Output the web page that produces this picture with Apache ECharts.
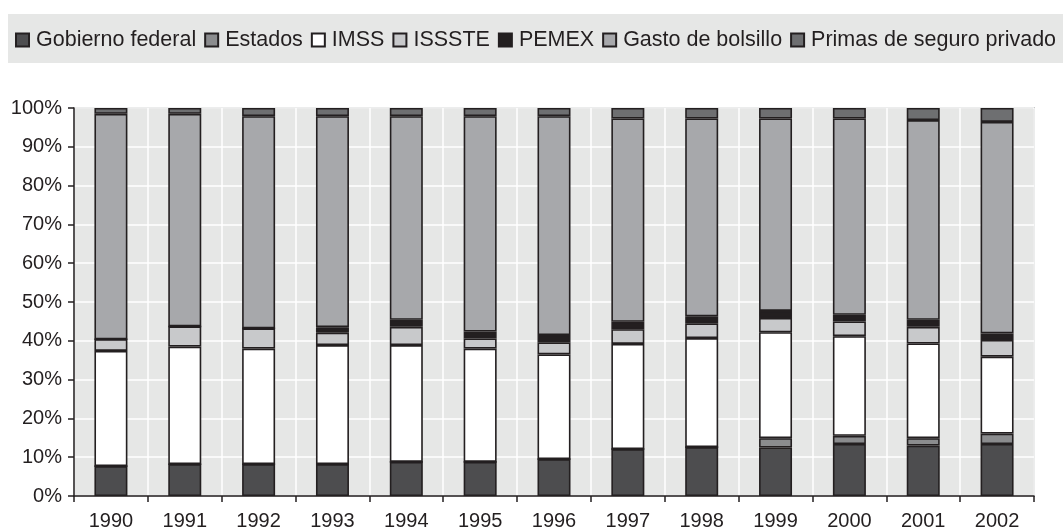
<!DOCTYPE html>
<html>
<head>
<meta charset="utf-8">
<script src="https://cdn.jsdelivr.net/npm/echarts@6/dist/echarts.min.js"></script>
<style>
html,body{margin:0;padding:0;background:#fff;}
#chart{width:1063px;height:531px;}
</style>
</head>
<body>
<div id="chart"></div>
<script>
const years = ['1990','1991','1992','1993','1994','1995','1996','1997','1998','1999','2000','2001','2002'];
const gobiernoFederal = [7.7, 8.2, 8.2, 8.2, 8.8, 8.8, 9.5, 12.1, 12.6, 12.5, 13.4, 13.0, 13.4];
const estados         = [0, 0, 0, 0, 0, 0, 0, 0, 0, 2.4, 2.1, 1.9, 2.7];
const imss            = [29.7, 30.3, 29.8, 30.7, 30.1, 29.2, 27.0, 27.1, 28.1, 27.3, 25.7, 24.4, 19.8];
const issste          = [3.0, 5.2, 5.2, 3.2, 4.7, 2.6, 3.1, 3.8, 3.8, 3.7, 3.8, 4.3, 4.3];
const pemex           = [0, 0, 0, 1.4, 1.8, 1.8, 1.9, 1.9, 1.8, 1.8, 1.7, 1.8, 1.7];
const gastoBolsillo   = [58.1, 54.8, 54.7, 54.4, 52.5, 55.5, 56.4, 52.4, 51.0, 49.6, 50.6, 51.5, 54.5];
const primasSeguro    = [1.5, 1.5, 2.1, 2.1, 2.1, 2.1, 2.1, 2.7, 2.7, 2.7, 2.7, 3.1, 3.6];

const seriesDefs = [
  ['Gobierno federal', gobiernoFederal, '#4d4d4f'],
  ['Estados', estados, '#8b8c8e'],
  ['IMSS', imss, '#ffffff'],
  ['ISSSTE', issste, '#c8c9cb'],
  ['PEMEX', pemex, '#231f20'],
  ['Gasto de bolsillo', gastoBolsillo, '#a7a8ab'],
  ['Primas de seguro privado', primasSeguro, '#6e6f71']
];

const FONT = '"Liberation Sans", Arial, sans-serif';
const chart = echarts.init(document.getElementById('chart'), null, {renderer: 'canvas'});
chart.setOption({
  animation: false,
  backgroundColor: '#ffffff',
  graphic: [{
    type: 'rect', z: -10, silent: true,
    shape: {x: 8, y: 14, width: 1060, height: 49},
    style: {fill: '#e6e7e6'}
  }],
  legend: {
    left: 15, top: 29, width: 1048, padding: 0,
    itemWidth: 13, itemHeight: 13, itemGap: 8,
    icon: 'rect',
    textStyle: {fontFamily: FONT, fontSize: 21.5, color: '#231f20', padding: [0, 0, 0, 2]},
    data: seriesDefs.map(d => d[0])
  },
  grid: {
    left: 74, right: 29, top: 108, bottom: 35,
    show: true, backgroundColor: '#e6e7e6', borderColor: '#9d9e9f', borderWidth: 1.5
  },
  xAxis: {
    type: 'category', data: years, boundaryGap: true,
    axisLine: {lineStyle: {color: '#231f20', width: 1.5}},
    axisTick: {show: true, length: 6, lineStyle: {color: '#231f20', width: 1.5}},
    axisLabel: {fontFamily: FONT, fontSize: 20, color: '#231f20', margin: 15},
    splitLine: {show: true, lineStyle: {color: '#ffffff', width: 1.5}}
  },
  yAxis: {
    type: 'value', min: 0, max: 100, interval: 10,
    axisLine: {show: true, lineStyle: {color: '#231f20', width: 1.5}},
    axisTick: {show: true, length: 6, lineStyle: {color: '#231f20', width: 1.5}},
    axisLabel: {fontFamily: FONT, fontSize: 20, color: '#231f20', margin: 12, formatter: '{value}%'},
    splitLine: {show: true, lineStyle: {color: '#ffffff', width: 1.5}}
  },
  series: seriesDefs.map(d => ({
    name: d[0], type: 'bar', stack: 'total', data: d[1], barWidth: 33,
    itemStyle: {color: d[2], borderColor: '#231f20', borderWidth: 1.6}
  }))
});
</script>
</body>
</html>
